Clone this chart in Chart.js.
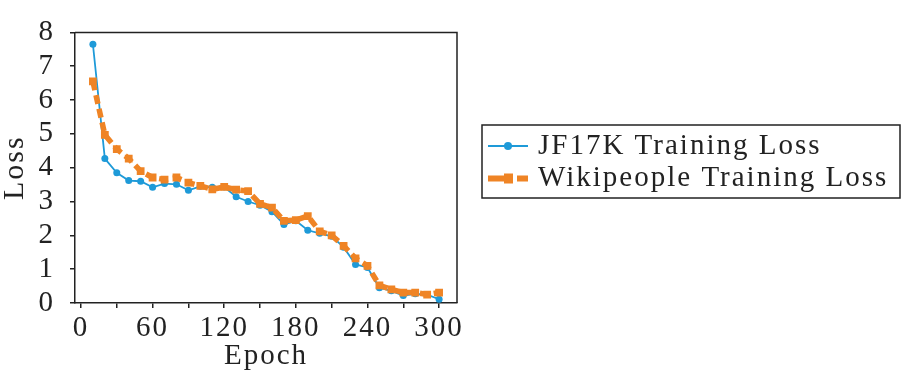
<!DOCTYPE html>
<html>
<head>
<meta charset="utf-8">
<script src="https://cdn.jsdelivr.net/npm/chart.js@4/dist/chart.umd.min.js"></script>
<style>
  html, body { margin: 0; padding: 0; background: #fff; }
  #wrap { width: 905px; height: 375px; }
</style>
</head>
<body>
<div id="wrap"><canvas id="c" width="905" height="375"></canvas></div>
<script>
const epochs = [10, 20, 30, 40, 50, 60, 70, 80, 90, 100, 110, 120, 130, 140, 150, 160, 170, 180, 190, 200, 210, 220, 230, 240, 250, 260, 270, 280, 290, 300];
const jf17kLoss = [7.65, 4.27, 3.85, 3.62, 3.60, 3.42, 3.53, 3.51, 3.33, 3.45, 3.42, 3.43, 3.14, 3.00, 2.89, 2.70, 2.32, 2.43, 2.15, 2.06, 1.97, 1.65, 1.14, 1.05, 0.45, 0.36, 0.22, 0.27, 0.25, 0.11];
const wikiLoss = [6.55, 4.97, 4.55, 4.27, 3.90, 3.71, 3.65, 3.71, 3.56, 3.46, 3.36, 3.43, 3.35, 3.31, 2.93, 2.82, 2.43, 2.45, 2.57, 2.12, 2.00, 1.69, 1.32, 1.10, 0.52, 0.40, 0.31, 0.31, 0.25, 0.31];
const seriesLabels = ['JF17K Training Loss', 'Wikipeople Training Loss'];
const xLabelTicks = [0, 60, 120, 180, 240, 300];

const BLUE = '#1E9AD8';
const ORANGE = '#EF8425';
const INK = '#222222';
const FONT = '"Liberation Serif", "Times New Roman", serif';
const SPACING = '2px';

const toPts = (ys) => epochs.map((e, i) => ({ x: e, y: ys[i] }));

const spacingPlugin = {
  id: 'spacing',
  beforeLayout(chart) { chart.ctx.letterSpacing = SPACING; },
  beforeDraw(chart) { chart.ctx.letterSpacing = SPACING; }
};

const framePlugin = {
  id: 'frame',
  afterDraw(chart) {
    const { ctx, chartArea: a } = chart;
    ctx.save();
    ctx.strokeStyle = INK;
    ctx.lineWidth = 1.5;
    ctx.beginPath();
    ctx.moveTo(a.left, a.top);
    ctx.lineTo(a.right, a.top);
    ctx.lineTo(a.right, a.bottom);
    ctx.stroke();
    ctx.restore();
  }
};

const legendPlugin = {
  id: 'customLegend',
  afterDraw(chart) {
    const ctx = chart.ctx;
    ctx.save();
    ctx.letterSpacing = SPACING;
    ctx.strokeStyle = INK;
    ctx.lineWidth = 1.5;
    ctx.strokeRect(482, 125, 418, 73);
    const rows = [146, 178.5];
    // JF17K sample
    ctx.strokeStyle = BLUE;
    ctx.lineWidth = 2;
    ctx.beginPath(); ctx.moveTo(488, rows[0]); ctx.lineTo(528, rows[0]); ctx.stroke();
    ctx.fillStyle = BLUE;
    ctx.beginPath(); ctx.arc(508, rows[0], 4, 0, Math.PI * 2); ctx.fill();
    // Wikipeople sample
    ctx.fillStyle = ORANGE;
    ctx.fillRect(488, rows[1] - 3, 17, 6);
    ctx.fillRect(504, rows[1] - 5, 9, 10);
    ctx.fillRect(517, rows[1] - 3, 11, 6);
    // labels
    ctx.fillStyle = INK;
    ctx.font = '29px ' + FONT;
    ctx.textBaseline = 'middle';
    ctx.textAlign = 'left';
    ctx.fillText(chart.data.datasets[1].label, 538, rows[0]);
    ctx.fillText(chart.data.datasets[0].label, 538, rows[1]);
    ctx.restore();
  }
};

new Chart(document.getElementById('c'), {
  type: 'line',
  data: {
    datasets: [
      {
        label: seriesLabels[1],
        data: toPts(wikiLoss),
        borderColor: ORANGE,
        backgroundColor: ORANGE,
        borderWidth: 5.5,
        borderDash: [9, 5],
        borderCapStyle: 'butt',
        pointStyle: 'rect',
        pointRadius: 5.5,
        pointBorderWidth: 0,
        pointBackgroundColor: ORANGE,
        tension: 0,
        order: 0
      },
      {
        label: seriesLabels[0],
        data: toPts(jf17kLoss),
        borderColor: BLUE,
        backgroundColor: BLUE,
        borderWidth: 1.8,
        pointStyle: 'circle',
        pointRadius: 3.5,
        pointBorderWidth: 0,
        pointBackgroundColor: BLUE,
        tension: 0,
        order: 1
      }
    ]
  },
  options: {
    responsive: false,
    devicePixelRatio: 1,
    animation: false,
    layout: { padding: { top: 13, right: 448, left: 0, bottom: 0 } },
    plugins: {
      legend: { display: false },
      tooltip: { enabled: false }
    },
    scales: {
      x: {
        type: 'linear',
        min: -5,
        max: 315,
        afterFit(s) { s.height = 72; },
        border: { display: true, color: INK, width: 1.5 },
        grid: { display: true, drawOnChartArea: false, drawTicks: true, tickLength: 5, color: INK, lineWidth: 1.5 },
        ticks: {
          stepSize: 30,
          includeBounds: false,
          autoSkip: false,
          maxRotation: 0,
          padding: 3,
          color: INK,
          font: { family: FONT, size: 29 },
          callback: (v) => xLabelTicks.includes(v) ? String(v) : ''
        },
        title: {
          display: true,
          text: 'Epoch',
          color: INK,
          font: { family: FONT, size: 29 },
          padding: { top: 0, bottom: 1 }
        }
      },
      y: {
        min: 0,
        max: 8,
        afterFit(s) { s.width = 75; },
        border: { display: true, color: INK, width: 1.5 },
        grid: { display: true, drawOnChartArea: false, drawTicks: true, tickLength: 5, color: INK, lineWidth: 1.5 },
        ticks: {
          stepSize: 1,
          autoSkip: false,
          padding: 15,
          color: INK,
          font: { family: FONT, size: 29 }
        },
        title: {
          display: true,
          text: 'Loss',
          color: INK,
          font: { family: FONT, size: 30, lineHeight: 1 },
          padding: { top: 0, bottom: 0 }
        }
      }
    }
  },
  plugins: [spacingPlugin, framePlugin, legendPlugin]
});
</script>
</body>
</html>
